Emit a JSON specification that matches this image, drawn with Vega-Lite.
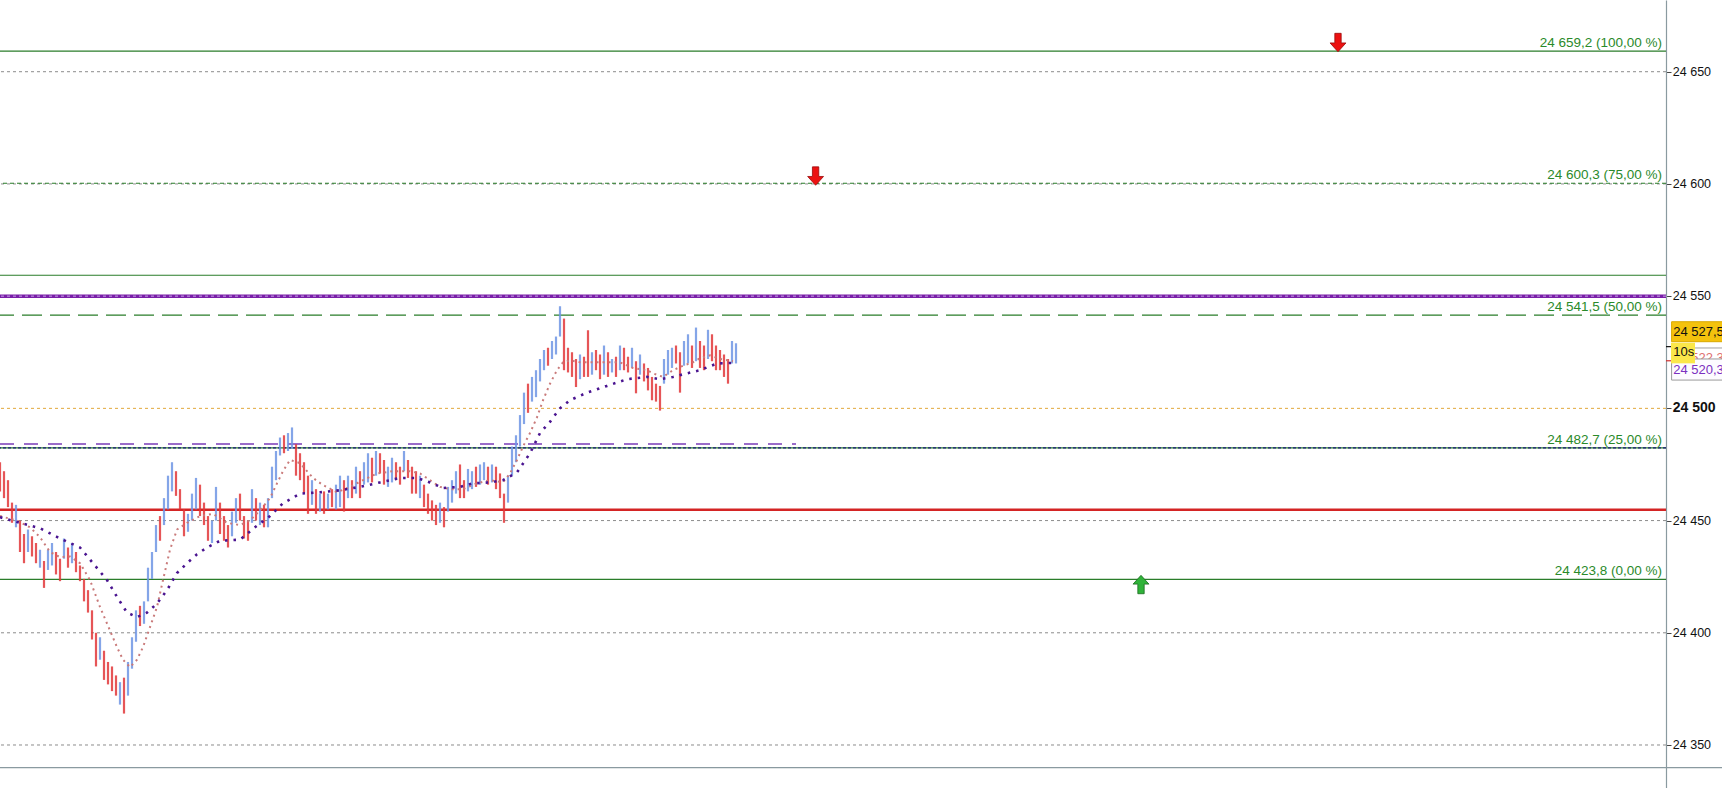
{
  "$schema": "https://vega.github.io/schema/vega-lite/v6.json",
  "width": 1666,
  "height": 788,
  "autosize": "none",
  "padding": {"left": 0, "top": 0, "right": 56, "bottom": 0},
  "background": "white",
  "config": {"view": {"stroke": null}},
  "datasets": {
    "bars": [
      {"i":0,"h":24476,"l":24463,"d":"d"},{"i":1,"h":24472,"l":24460,"d":"d"},{"i":2,"h":24468,"l":24456,"d":"d"},{"i":3,"h":24458,"l":24449,"d":"d"},{"i":4,"h":24457,"l":24447,"d":"u"},
      {"i":5,"h":24450,"l":24436,"d":"d"},{"i":6,"h":24444,"l":24431,"d":"d"},{"i":7,"h":24446,"l":24436,"d":"u"},{"i":8,"h":24443,"l":24434,"d":"d"},{"i":9,"h":24440,"l":24431,"d":"d"},
      {"i":10,"h":24437,"l":24429,"d":"u"},{"i":11,"h":24432,"l":24420,"d":"d"},{"i":12,"h":24437,"l":24428,"d":"u"},{"i":13,"h":24440,"l":24430,"d":"u"},{"i":14,"h":24436,"l":24426,"d":"d"},
      {"i":15,"h":24433,"l":24423,"d":"d"},{"i":16,"h":24442,"l":24433,"d":"u"},{"i":17,"h":24438,"l":24429,"d":"d"},{"i":18,"h":24440,"l":24431,"d":"u"},{"i":19,"h":24436,"l":24427,"d":"d"},
      {"i":20,"h":24430,"l":24423,"d":"d"},{"i":21,"h":24424,"l":24414,"d":"d"},{"i":22,"h":24419,"l":24409,"d":"d"},{"i":23,"h":24410,"l":24397,"d":"d"},{"i":24,"h":24400,"l":24385,"d":"d"},
      {"i":25,"h":24398,"l":24388,"d":"u"},{"i":26,"h":24392,"l":24379,"d":"d"},{"i":27,"h":24387,"l":24377,"d":"d"},{"i":28,"h":24385,"l":24374,"d":"d"},{"i":29,"h":24381,"l":24372,"d":"d"},
      {"i":30,"h":24378,"l":24368,"d":"u"},{"i":31,"h":24380,"l":24364,"d":"d"},{"i":32,"h":24387,"l":24372,"d":"u"},{"i":33,"h":24398,"l":24384,"d":"u"},{"i":34,"h":24410,"l":24396,"d":"u"},
      {"i":35,"h":24412,"l":24403,"d":"d"},{"i":36,"h":24414,"l":24404,"d":"u"},{"i":37,"h":24429,"l":24414,"d":"u"},{"i":38,"h":24436,"l":24424,"d":"u"},{"i":39,"h":24448,"l":24436,"d":"u"},
      {"i":40,"h":24452,"l":24441,"d":"d"},{"i":41,"h":24460,"l":24448,"d":"u"},{"i":42,"h":24470,"l":24455,"d":"u"},{"i":43,"h":24476,"l":24463,"d":"u"},{"i":44,"h":24472,"l":24461,"d":"d"},
      {"i":45,"h":24464,"l":24455,"d":"d"},{"i":46,"h":24455,"l":24443,"d":"d"},{"i":47,"h":24453,"l":24445,"d":"u"},{"i":48,"h":24462,"l":24450,"d":"u"},{"i":49,"h":24469,"l":24455,"d":"u"},
      {"i":50,"h":24466,"l":24452,"d":"d"},{"i":51,"h":24458,"l":24448,"d":"d"},{"i":52,"h":24452,"l":24441,"d":"d"},{"i":53,"h":24450,"l":24440,"d":"u"},{"i":54,"h":24465,"l":24450,"d":"u"},
      {"i":55,"h":24458,"l":24444,"d":"d"},{"i":56,"h":24452,"l":24441,"d":"d"},{"i":57,"h":24448,"l":24438,"d":"d"},{"i":58,"h":24454,"l":24443,"d":"u"},{"i":59,"h":24460,"l":24449,"d":"u"},
      {"i":60,"h":24462,"l":24450,"d":"d"},{"i":61,"h":24452,"l":24442,"d":"d"},{"i":62,"h":24450,"l":24441,"d":"d"},{"i":63,"h":24464,"l":24449,"d":"u"},{"i":64,"h":24460,"l":24450,"d":"d"},
      {"i":65,"h":24458,"l":24448,"d":"u"},{"i":66,"h":24457,"l":24447,"d":"d"},{"i":67,"h":24460,"l":24447,"d":"u"},{"i":68,"h":24474,"l":24460,"d":"u"},{"i":69,"h":24481,"l":24468,"d":"u"},
      {"i":70,"h":24487,"l":24479,"d":"u"},{"i":71,"h":24488,"l":24480,"d":"d"},{"i":72,"h":24489,"l":24481,"d":"u"},{"i":73,"h":24491.5,"l":24482,"d":"u"},{"i":74,"h":24484,"l":24470,"d":"d"},
      {"i":75,"h":24480,"l":24468,"d":"d"},{"i":76,"h":24476,"l":24462,"d":"d"},{"i":77,"h":24470,"l":24453,"d":"d"},{"i":78,"h":24468,"l":24457,"d":"u"},{"i":79,"h":24464,"l":24453,"d":"d"},
      {"i":80,"h":24462,"l":24454,"d":"u"},{"i":81,"h":24463,"l":24453,"d":"d"},{"i":82,"h":24462,"l":24455,"d":"u"},{"i":83,"h":24464,"l":24456,"d":"d"},{"i":84,"h":24466,"l":24455,"d":"u"},
      {"i":85,"h":24470,"l":24456,"d":"u"},{"i":86,"h":24468,"l":24454,"d":"d"},{"i":87,"h":24470,"l":24460,"d":"u"},{"i":88,"h":24468,"l":24460,"d":"d"},{"i":89,"h":24474,"l":24462,"d":"u"},
      {"i":90,"h":24472,"l":24460,"d":"d"},{"i":91,"h":24476,"l":24466,"d":"u"},{"i":92,"h":24480,"l":24467,"d":"u"},{"i":93,"h":24478,"l":24467,"d":"d"},{"i":94,"h":24481,"l":24470,"d":"u"},
      {"i":95,"h":24480,"l":24471,"d":"d"},{"i":96,"h":24477,"l":24466,"d":"d"},{"i":97,"h":24474,"l":24465,"d":"u"},{"i":98,"h":24478,"l":24467,"d":"u"},{"i":99,"h":24476,"l":24468,"d":"d"},
      {"i":100,"h":24474,"l":24466,"d":"d"},{"i":101,"h":24481,"l":24472,"d":"u"},{"i":102,"h":24477,"l":24469,"d":"d"},{"i":103,"h":24474,"l":24462,"d":"d"},{"i":104,"h":24472,"l":24462,"d":"d"},
      {"i":105,"h":24470,"l":24460,"d":"u"},{"i":106,"h":24466,"l":24456,"d":"d"},{"i":107,"h":24462,"l":24453,"d":"d"},{"i":108,"h":24459,"l":24450,"d":"d"},{"i":109,"h":24457,"l":24448,"d":"d"},
      {"i":110,"h":24458,"l":24449,"d":"u"},{"i":111,"h":24456,"l":24447,"d":"d"},{"i":112,"h":24465,"l":24454,"d":"u"},{"i":113,"h":24468,"l":24458,"d":"u"},{"i":114,"h":24472,"l":24462,"d":"u"},
      {"i":115,"h":24475,"l":24460,"d":"d"},{"i":116,"h":24468,"l":24460,"d":"d"},{"i":117,"h":24473,"l":24463,"d":"u"},{"i":118,"h":24472,"l":24464,"d":"u"},{"i":119,"h":24474,"l":24465,"d":"d"},
      {"i":120,"h":24475,"l":24466,"d":"u"},{"i":121,"h":24476,"l":24468,"d":"u"},{"i":122,"h":24474,"l":24466,"d":"d"},{"i":123,"h":24475,"l":24467,"d":"u"},{"i":124,"h":24474,"l":24464,"d":"d"},
      {"i":125,"h":24471,"l":24460,"d":"d"},{"i":126,"h":24462,"l":24449,"d":"d"},{"i":127,"h":24470,"l":24458,"d":"u"},{"i":128,"h":24483,"l":24470,"d":"u"},{"i":129,"h":24488,"l":24476,"d":"u"},
      {"i":130,"h":24497,"l":24483,"d":"u"},{"i":131,"h":24507,"l":24493,"d":"u"},{"i":132,"h":24511,"l":24498,"d":"d"},{"i":133,"h":24514,"l":24503,"d":"u"},{"i":134,"h":24517,"l":24505,"d":"u"},
      {"i":135,"h":24522,"l":24512,"d":"u"},{"i":136,"h":24526,"l":24517,"d":"u"},{"i":137,"h":24527,"l":24519,"d":"d"},{"i":138,"h":24530,"l":24522,"d":"u"},{"i":139,"h":24532,"l":24524,"d":"u"},
      {"i":140,"h":24545.5,"l":24532,"d":"u"},{"i":141,"h":24540,"l":24517,"d":"d"},{"i":142,"h":24527,"l":24516,"d":"d"},{"i":143,"h":24525,"l":24514,"d":"d"},{"i":144,"h":24522,"l":24509.5,"d":"d"},
      {"i":145,"h":24524,"l":24513,"d":"u"},{"i":146,"h":24523,"l":24514,"d":"d"},{"i":147,"h":24534.8,"l":24514,"d":"d"},{"i":148,"h":24525,"l":24515,"d":"u"},{"i":149,"h":24526,"l":24517,"d":"d"},
      {"i":150,"h":24524,"l":24513,"d":"d"},{"i":151,"h":24528,"l":24515,"d":"u"},{"i":152,"h":24525,"l":24514,"d":"d"},{"i":153,"h":24522,"l":24516,"d":"u"},{"i":154,"h":24523,"l":24514,"d":"d"},
      {"i":155,"h":24528,"l":24517,"d":"u"},{"i":156,"h":24527,"l":24517,"d":"d"},{"i":157,"h":24523,"l":24516,"d":"d"},{"i":158,"h":24527,"l":24518,"d":"u"},{"i":159,"h":24521,"l":24506.7,"d":"d"},
      {"i":160,"h":24524,"l":24515,"d":"u"},{"i":161,"h":24520,"l":24512,"d":"d"},{"i":162,"h":24518,"l":24508,"d":"d"},{"i":163,"h":24514,"l":24503.6,"d":"d"},{"i":164,"h":24511,"l":24503,"d":"d"},
      {"i":165,"h":24510,"l":24499,"d":"d"},{"i":166,"h":24522,"l":24511,"d":"u"},{"i":167,"h":24526,"l":24515,"d":"u"},{"i":168,"h":24527,"l":24518,"d":"u"},{"i":169,"h":24528,"l":24520,"d":"d"},
      {"i":170,"h":24525,"l":24507,"d":"d"},{"i":171,"h":24530,"l":24519,"d":"u"},{"i":172,"h":24533,"l":24520,"d":"u"},{"i":173,"h":24528,"l":24518,"d":"d"},{"i":174,"h":24536,"l":24521,"d":"u"},
      {"i":175,"h":24530,"l":24518,"d":"d"},{"i":176,"h":24528,"l":24517,"d":"d"},{"i":177,"h":24535,"l":24522,"d":"u"},{"i":178,"h":24533,"l":24521,"d":"d"},{"i":179,"h":24528,"l":24517,"d":"d"},
      {"i":180,"h":24526,"l":24517,"d":"d"},{"i":181,"h":24524,"l":24514,"d":"d"},{"i":182,"h":24522,"l":24511,"d":"d"},{"i":183,"h":24530,"l":24520,"d":"u"},{"i":184,"h":24529,"l":24520,"d":"u"}
    ],
    "fast": [
      {"i":0,"v":24452},{"i":4.25,"v":24450},{"i":7.5,"v":24447},{"i":10,"v":24442.6},{"i":12.5,"v":24436},{"i":15,"v":24433.7},{"i":17.5,"v":24434},{"i":20,"v":24431},
      {"i":22.5,"v":24423.5},{"i":25,"v":24411.5},{"i":27.5,"v":24401},{"i":29.25,"v":24393.6},{"i":30.75,"v":24388},{"i":32.5,"v":24384.7},{"i":34.25,"v":24388},{"i":35.75,"v":24393.6},
      {"i":37.5,"v":24402.5},{"i":39.25,"v":24411.5},{"i":40.75,"v":24423.5},{"i":42.5,"v":24437},{"i":44.25,"v":24446},{"i":46.75,"v":24449},{"i":50,"v":24452},{"i":53.25,"v":24453},
      {"i":56.75,"v":24449},{"i":60,"v":24448},{"i":62.5,"v":24450},{"i":65,"v":24454.6},{"i":67.5,"v":24460},{"i":69.25,"v":24466.6},{"i":70.75,"v":24472},{"i":72.5,"v":24477},
      {"i":75,"v":24475.6},{"i":76.75,"v":24472},{"i":78.25,"v":24469},{"i":80.75,"v":24465.8},{"i":84.25,"v":24462.6},{"i":87.5,"v":24465},{"i":90.75,"v":24468},{"i":94.25,"v":24471},
      {"i":98.25,"v":24472},{"i":102.5,"v":24472},{"i":105,"v":24471},{"i":107.5,"v":24468},{"i":110,"v":24465},{"i":112.5,"v":24464},{"i":115.75,"v":24464},{"i":119.25,"v":24466.6},
      {"i":122.5,"v":24468},{"i":125.75,"v":24467},{"i":127.5,"v":24471},{"i":129.25,"v":24477},{"i":130.75,"v":24483},{"i":132.5,"v":24489},{"i":134.25,"v":24496},{"i":135.75,"v":24503.6},
      {"i":137.5,"v":24511},{"i":139.25,"v":24517},{"i":140.75,"v":24520.5},{"i":142.5,"v":24521.4},{"i":145,"v":24520.5},{"i":148.25,"v":24520.5},{"i":151.75,"v":24520.5},{"i":155,"v":24520.5},
      {"i":158.25,"v":24518},{"i":161.75,"v":24517},{"i":163.25,"v":24515.6},{"i":165.75,"v":24514},{"i":168.25,"v":24517},{"i":170.75,"v":24519},{"i":173.25,"v":24520.5},{"i":175,"v":24522.3},
      {"i":177.5,"v":24523.6},{"i":180,"v":24522},{"i":183.25,"v":24521}
    ],
    "slow": [
      {"i":0,"v":24451.5},{"i":5,"v":24449},{"i":10,"v":24446.6},{"i":15,"v":24442},{"i":20,"v":24438},{"i":23.25,"v":24431},{"i":26.75,"v":24423.5},{"i":29.25,"v":24416},
      {"i":31.75,"v":24409},{"i":34.25,"v":24407},{"i":36.75,"v":24409},{"i":39.25,"v":24413},{"i":41.75,"v":24419},{"i":44.25,"v":24426.6},{"i":46.75,"v":24431},{"i":49.25,"v":24435},
      {"i":51.75,"v":24438},{"i":55,"v":24441},{"i":60,"v":24441.5},{"i":63.75,"v":24447},{"i":67.5,"v":24452},{"i":70.75,"v":24457.7},{"i":75,"v":24462},{"i":80,"v":24462.6},
      {"i":85,"v":24463.5},{"i":90,"v":24465},{"i":95,"v":24467},{"i":100,"v":24469},{"i":104.25,"v":24469},{"i":107.5,"v":24467},{"i":110.75,"v":24464.5},{"i":115,"v":24465},
      {"i":118.25,"v":24466.6},{"i":122.5,"v":24467},{"i":125.75,"v":24468},{"i":129.25,"v":24471.5},{"i":132.5,"v":24480},{"i":135,"v":24489},{"i":137.5,"v":24494},{"i":140,"v":24500},
      {"i":142.5,"v":24503.6},{"i":146.75,"v":24507},{"i":151.75,"v":24510},{"i":156.75,"v":24513},{"i":161.75,"v":24514},{"i":165,"v":24513},{"i":168.25,"v":24514},{"i":171.75,"v":24515.6},
      {"i":175,"v":24517},{"i":179.25,"v":24520},{"i":183.75,"v":24520.3}
    ],
    "grid": [
      {"v":24350,"k":"g","t":"24 350","tx":418.2},{"v":24400,"k":"g","t":"24 400","tx":418.2},{"v":24450,"k":"g","t":"24 450","tx":418.2},
      {"v":24500,"k":"y","t":"24 500","tx":418.2},{"v":24550,"k":"g","t":"24 550","tx":418.2},{"v":24600,"k":"g","t":"24 600","tx":418.2},{"v":24650,"k":"g","t":"24 650","tx":418.2}
    ],
    "levels": [
      {"v":24659.2,"k":"fib","lab":"24 659,2 (100,00 %)","lx":415.5},
      {"v":24600.3,"k":"fibd","lab":"24 600,3 (75,00 %)","lx":415.5},
      {"v":24541.5,"k":"fibl","lab":"24 541,5 (50,00 %)","lx":415.5},
      {"v":24482.4,"k":"fibn","lab":"24 482,7 (25,00 %)","lx":415.5},
      {"v":24423.8,"k":"fib","lab":"24 423,8 (0,00 %)","lx":415.5},
      {"v":24559.3,"k":"green","lab":""},
      {"v":24550,"k":"purple","lab":""},
      {"v":24454.8,"k":"red","lab":""},
      {"v":24484.1,"k":"pdash","lab":"","from":0,"to":199},
      {"v":24339.9,"k":"base","lab":"","from":0,"to":431}
    ],
    "arrows": [
      {"i":334.5,"v":24663,"dir":"down"},
      {"i":203.9,"v":24603.5,"dir":"down"},
      {"i":285.25,"v":24421.5,"dir":"up"}
    ],
    "ticks": [
      {"v":24527.5,"c":"last","a":416.5,"b":418},
      {"v":24521.2,"c":"red","a":416.5,"b":418}
    ],
    "tags": [
      {"k":"hid","t":"24 522,3","a":417.9,"b":432,"top":24526.9,"bot":24518,"tx":418.3,"ty":24522.4},
      {"k":"ma","t":"24 520,3","a":417.9,"b":432,"top":24522.0,"bot":24512.6,"tx":418.3,"ty":24517.2},
      {"k":"last","t":"24 527,5","a":417.9,"b":432,"top":24538.6,"bot":24529.7,"tx":418.3,"ty":24534.2},
      {"k":"timer","t":"10s","a":417.75,"b":423.75,"top":24529.25,"bot":24520.06,"tx":418.3,"ty":24524.9}
    ]
  },
  "layer": [
    {
      "data": {"name": "grid"},
      "transform": [{"filter": "datum.k == 'g'"}],
      "mark": {"type": "rule", "color": "#8c8c8c", "strokeWidth": 1, "strokeDash": [3, 3]},
      "encoding": {
        "y": {"field": "v", "type": "quantitative", "scale": {"domain": [24330.84, 24681.95], "nice": false, "zero": false},
          "axis": {"orient": "right", "title": null, "values": [24350, 24400, 24450, 24500, 24550, 24600, 24650],
            "labels": false, "tickSize": 5, "tickColor": "#444444",
            "domainColor": "#8a9aa0", "domainWidth": 1.2, "grid": false}}
      }
    },
    {
      "data": {"name": "grid"},
      "transform": [{"filter": "datum.k == 'y'"}],
      "mark": {"type": "rule", "color": "#e2a83a", "strokeWidth": 1, "strokeDash": [3, 3]},
      "encoding": {"y": {"field": "v", "type": "quantitative"}}
    },
    {
      "data": {"name": "grid"},
      "transform": [{"filter": "datum.k == 'g'"}],
      "mark": {"type": "text", "align": "left", "baseline": "middle", "font": "Liberation Sans", "fontSize": 12.5, "color": "#111111", "clip": false},
      "encoding": {"y": {"field": "v", "type": "quantitative"}, "x": {"field": "tx", "type": "quantitative", "axis": null}, "text": {"field": "t"}}
    },
    {
      "data": {"name": "grid"},
      "transform": [{"filter": "datum.k == 'y'"}],
      "mark": {"type": "text", "align": "left", "baseline": "middle", "font": "Liberation Sans", "fontSize": 14, "fontWeight": "bold", "color": "#111111", "clip": false},
      "encoding": {"y": {"field": "v", "type": "quantitative"}, "x": {"field": "tx", "type": "quantitative", "axis": null}, "text": {"field": "t"}}
    },
    {
      "data": {"name": "levels"},
      "transform": [{"filter": "datum.k == 'fib' || datum.k == 'green' || datum.k == 'fibn'"}],
      "mark": {"type": "rule", "color": "#2a7d2a", "strokeWidth": 1.2},
      "encoding": {"y": {"field": "v", "type": "quantitative"}}
    },
    {
      "data": {"name": "levels"},
      "transform": [{"filter": "datum.k == 'fibd'"}],
      "mark": {"type": "rule", "color": "#2a7d2a", "strokeWidth": 1.2, "strokeDash": [4, 3]},
      "encoding": {"y": {"field": "v", "type": "quantitative"}}
    },
    {
      "data": {"name": "levels"},
      "transform": [{"filter": "datum.k == 'fibl'"}],
      "mark": {"type": "rule", "color": "#2a7d2a", "strokeWidth": 1.2, "strokeDash": [20, 8]},
      "encoding": {"y": {"field": "v", "type": "quantitative"}}
    },
    {
      "data": {"name": "levels"},
      "transform": [{"filter": "datum.k == 'fibn'"}],
      "mark": {"type": "rule", "color": "#1a1a80", "strokeWidth": 1.2, "strokeDash": [3, 2]},
      "encoding": {"y": {"field": "v", "type": "quantitative"}}
    },
    {
      "data": {"name": "levels"},
      "transform": [{"filter": "datum.k == 'purple'"}],
      "mark": {"type": "rule", "color": "#7a1fa8", "strokeWidth": 3.5},
      "encoding": {"y": {"field": "v", "type": "quantitative"}}
    },
    {
      "data": {"name": "levels"},
      "transform": [{"filter": "datum.k == 'purple'"}],
      "mark": {"type": "rule", "color": "#c9a6e6", "strokeWidth": 1, "strokeDash": [3, 3]},
      "encoding": {"y": {"field": "v", "type": "quantitative"}}
    },
    {
      "data": {"name": "levels"},
      "transform": [{"filter": "datum.k == 'red'"}],
      "mark": {"type": "rule", "color": "#d42424", "strokeWidth": 2.6},
      "encoding": {"y": {"field": "v", "type": "quantitative"}}
    },
    {
      "data": {"name": "levels"},
      "transform": [{"filter": "datum.k == 'pdash'"}],
      "mark": {"type": "rule", "color": "#7a3cb8", "strokeWidth": 1.5, "strokeDash": [14, 10]},
      "encoding": {"y": {"field": "v", "type": "quantitative"}, "x": {"field": "from", "type": "quantitative", "axis": null}, "x2": {"field": "to"}}
    },
    {
      "data": {"name": "levels"},
      "transform": [{"filter": "datum.k == 'base'"}],
      "mark": {"type": "rule", "color": "#8a9aa0", "strokeWidth": 1.2, "clip": false},
      "encoding": {"y": {"field": "v", "type": "quantitative"}, "x": {"field": "from", "type": "quantitative", "axis": null}, "x2": {"field": "to"}}
    },
    {
      "data": {"name": "levels"},
      "transform": [{"filter": "datum.lab != ''"}],
      "mark": {"type": "text", "align": "right", "baseline": "alphabetic", "dy": -4, "font": "Liberation Sans", "fontSize": 13.5, "color": "#2a8a2a"},
      "encoding": {"y": {"field": "v", "type": "quantitative"}, "x": {"field": "lx", "type": "quantitative", "axis": null}, "text": {"field": "lab"}}
    },
    {
      "data": {"name": "bars"},
      "mark": {"type": "rule", "strokeWidth": 2.2, "opacity": 0.85},
      "encoding": {
        "x": {"field": "i", "type": "quantitative", "scale": {"domain": [0, 416.5], "nice": false, "zero": false}, "axis": null},
        "y": {"field": "l", "type": "quantitative"},
        "y2": {"field": "h"},
        "color": {"field": "d", "type": "nominal", "scale": {"domain": ["u", "d"], "range": ["#6f95e4", "#e2373a"]}, "legend": null}
      }
    },
    {
      "data": {"name": "fast"},
      "mark": {"type": "line", "color": "#c97a7a", "strokeWidth": 2, "strokeDash": [2, 4]},
      "encoding": {"x": {"field": "i", "type": "quantitative", "axis": null}, "y": {"field": "v", "type": "quantitative"}}
    },
    {
      "data": {"name": "slow"},
      "mark": {"type": "line", "color": "#4a1490", "strokeWidth": 2.6, "strokeDash": [2.5, 6]},
      "encoding": {"x": {"field": "i", "type": "quantitative", "axis": null}, "y": {"field": "v", "type": "quantitative"}}
    },
    {
      "data": {"name": "arrows"},
      "transform": [{"filter": "datum.dir == 'down'"}],
      "mark": {"type": "point", "filled": true, "size": 280, "color": "#ec1111", "stroke": "#9a0a0a", "strokeWidth": 0.8, "opacity": 1,
        "shape": "M-0.38,-1.1L0.38,-1.1L0.38,0.05L0.95,0.05L0,1.1L-0.95,0.05L-0.38,0.05Z"},
      "encoding": {"x": {"field": "i", "type": "quantitative", "axis": null}, "y": {"field": "v", "type": "quantitative"}}
    },
    {
      "data": {"name": "arrows"},
      "transform": [{"filter": "datum.dir == 'up'"}],
      "mark": {"type": "point", "filled": true, "size": 280, "color": "#2fb339", "stroke": "#1c6b1f", "strokeWidth": 0.8, "opacity": 1,
        "shape": "M-0.38,1.1L0.38,1.1L0.38,-0.05L0.95,-0.05L0,-1.1L-0.95,-0.05L-0.38,-0.05Z"},
      "encoding": {"x": {"field": "i", "type": "quantitative", "axis": null}, "y": {"field": "v", "type": "quantitative"}}
    },
    {
      "data": {"name": "ticks"},
      "transform": [{"filter": "datum.c == 'last'"}],
      "mark": {"type": "rule", "strokeWidth": 1.2, "color": "#111111", "clip": false},
      "encoding": {"y": {"field": "v", "type": "quantitative"}, "x": {"field": "a", "type": "quantitative", "axis": null}, "x2": {"field": "b"}}
    },
    {
      "data": {"name": "ticks"},
      "transform": [{"filter": "datum.c == 'red'"}],
      "mark": {"type": "rule", "strokeWidth": 1.2, "color": "#d03030", "clip": false},
      "encoding": {"y": {"field": "v", "type": "quantitative"}, "x": {"field": "a", "type": "quantitative", "axis": null}, "x2": {"field": "b"}}
    },
    {
      "data": {"name": "tags"},
      "transform": [{"filter": "datum.k == 'hid'"}],
      "mark": {"type": "rect", "color": "#ffffff", "stroke": "#a0a0a0", "strokeWidth": 1, "clip": false},
      "encoding": {"x": {"field": "a", "type": "quantitative", "axis": null}, "x2": {"field": "b"}, "y": {"field": "top", "type": "quantitative"}, "y2": {"field": "bot"}}
    },
    {
      "data": {"name": "tags"},
      "transform": [{"filter": "datum.k == 'hid'"}],
      "mark": {"type": "text", "align": "left", "baseline": "middle", "font": "Liberation Sans", "fontSize": 13, "color": "#e07070", "clip": false},
      "encoding": {"x": {"field": "tx", "type": "quantitative", "axis": null}, "y": {"field": "ty", "type": "quantitative"}, "text": {"field": "t"}}
    },
    {
      "data": {"name": "tags"},
      "transform": [{"filter": "datum.k == 'ma'"}],
      "mark": {"type": "rect", "color": "#fdfbff", "stroke": "#9a9a9a", "strokeWidth": 1, "clip": false},
      "encoding": {"x": {"field": "a", "type": "quantitative", "axis": null}, "x2": {"field": "b"}, "y": {"field": "top", "type": "quantitative"}, "y2": {"field": "bot"}}
    },
    {
      "data": {"name": "tags"},
      "transform": [{"filter": "datum.k == 'ma'"}],
      "mark": {"type": "text", "align": "left", "baseline": "middle", "font": "Liberation Sans", "fontSize": 13, "color": "#7b2fc0", "clip": false},
      "encoding": {"x": {"field": "tx", "type": "quantitative", "axis": null}, "y": {"field": "ty", "type": "quantitative"}, "text": {"field": "t"}}
    },
    {
      "data": {"name": "tags"},
      "transform": [{"filter": "datum.k == 'last'"}],
      "mark": {"type": "rect", "color": "#f4c20d", "stroke": "#d9a800", "strokeWidth": 1, "clip": false},
      "encoding": {"x": {"field": "a", "type": "quantitative", "axis": null}, "x2": {"field": "b"}, "y": {"field": "top", "type": "quantitative"}, "y2": {"field": "bot"}}
    },
    {
      "data": {"name": "tags"},
      "transform": [{"filter": "datum.k == 'last'"}],
      "mark": {"type": "text", "align": "left", "baseline": "middle", "font": "Liberation Sans", "fontSize": 13, "color": "#111111", "clip": false},
      "encoding": {"x": {"field": "tx", "type": "quantitative", "axis": null}, "y": {"field": "ty", "type": "quantitative"}, "text": {"field": "t"}}
    },
    {
      "data": {"name": "tags"},
      "transform": [{"filter": "datum.k == 'timer'"}],
      "mark": {"type": "rect", "color": "#fbe74a", "clip": false},
      "encoding": {"x": {"field": "a", "type": "quantitative", "axis": null}, "x2": {"field": "b"}, "y": {"field": "top", "type": "quantitative"}, "y2": {"field": "bot"}}
    },
    {
      "data": {"name": "tags"},
      "transform": [{"filter": "datum.k == 'timer'"}],
      "mark": {"type": "text", "align": "left", "baseline": "middle", "font": "Liberation Sans", "fontSize": 13, "color": "#111111", "clip": false},
      "encoding": {"x": {"field": "tx", "type": "quantitative", "axis": null}, "y": {"field": "ty", "type": "quantitative"}, "text": {"field": "t"}}
    }
  ]
}
